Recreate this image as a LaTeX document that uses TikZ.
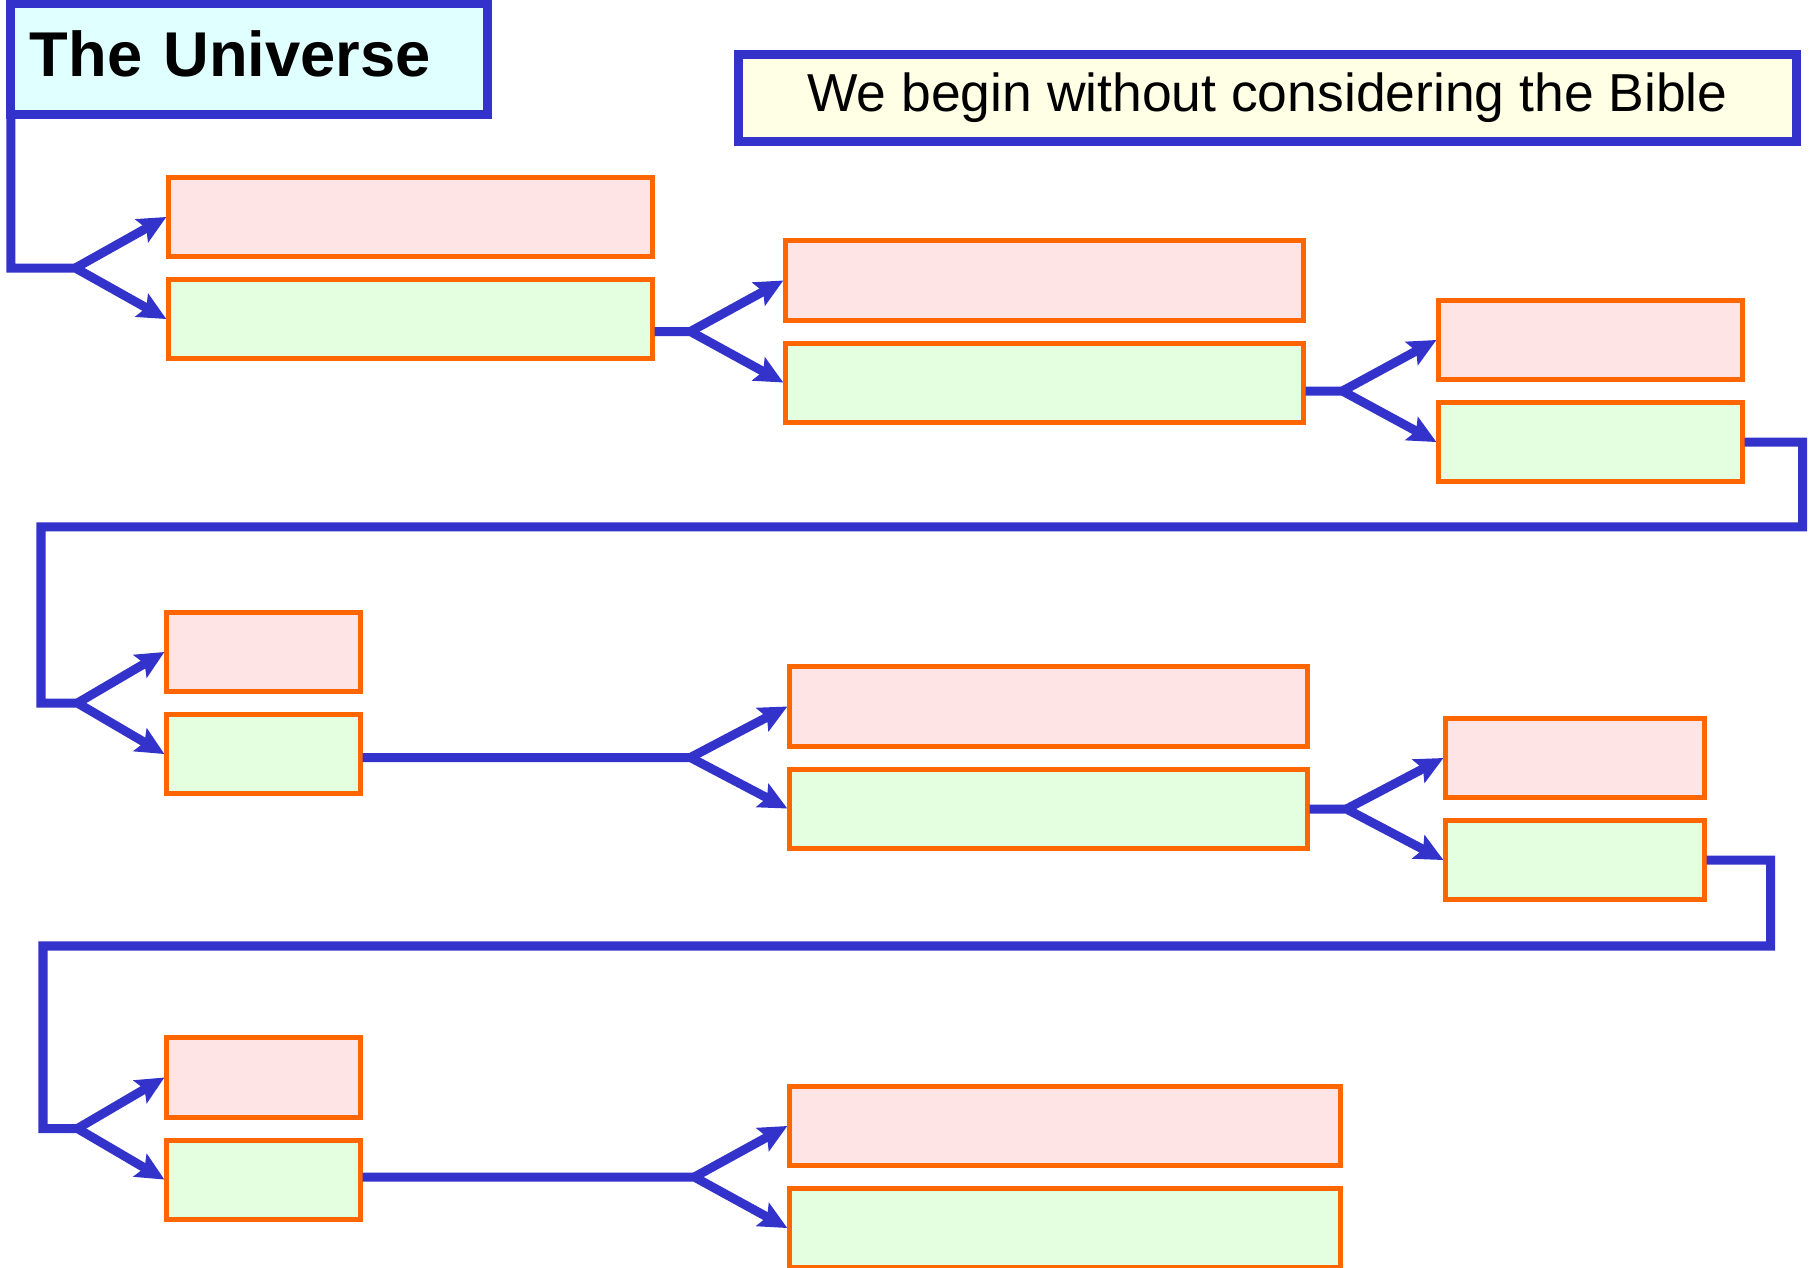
\documentclass[tikz,border=0pt]{standalone}
\usepackage{fontspec}
\setmainfont{Liberation Sans}
\usetikzlibrary{positioning,calc,arrows.meta}

\definecolor{linkblue}{RGB}{51,51,204}
\definecolor{boxorange}{RGB}{255,102,0}
\definecolor{nofill}{RGB}{255,228,230}
\definecolor{yesfill}{RGB}{228,255,224}
\definecolor{titlefill}{RGB}{224,255,255}
\definecolor{notefill}{RGB}{255,255,229}

\begin{document}
\begin{tikzpicture}[x=0.01cm, y=-0.01cm, node distance=0.18cm]
  \tikzstyle{nobox} = [rectangle, draw=boxorange, line width=0.05cm, fill=nofill, inner sep=0pt, minimum height=0.79cm]
  \tikzstyle{yesbox} = [nobox, fill=yesfill]
  \tikzstyle{headbox} = [rectangle, draw=linkblue, line width=0.09cm, outer sep=0pt]
  \tikzstyle{link} = [draw=linkblue, line width=0.09cm]
  \tikzstyle{arr} = [link, -{Stealth[length=0.28cm, width=0.26cm, inset=0.05cm]}]

  \useasboundingbox (0,0) rectangle (1816,1268);

  \node[headbox, fill=titlefill, text width=4.38cm, inner xsep=0.19cm, minimum height=1.10cm,
        text depth=0.1cm, align=left, font=\fontsize{18pt}{22pt}\selectfont\bfseries] (title) at (249,59) {The Universe};
  \node[headbox, fill=notefill, minimum width=10.57cm, minimum height=0.86cm,
        font=\fontsize{15.2pt}{18pt}\selectfont] (note) at (1267.5,98) {We begin without considering the Bible};

  % first row
  \node[nobox, minimum width=4.83cm] (A1) at (410.5,217) {};
  \node[yesbox, minimum width=4.83cm, below=of A1] (A2) {};
  \node[nobox, minimum width=5.17cm] (B1) at (1044.5,280.5) {};
  \node[yesbox, minimum width=5.17cm, below=of B1] (B2) {};
  \node[nobox, minimum width=3.03cm] (C1) at (1590.5,340) {};
  \node[yesbox, minimum width=3.03cm, below=of C1] (C2) {};

  % second row
  \node[nobox, minimum width=1.93cm] (D1) at (263.5,652) {};
  \node[yesbox, minimum width=1.93cm, below=of D1] (D2) {};
  \node[nobox, minimum width=5.17cm] (E1) at (1048.5,706.5) {};
  \node[yesbox, minimum width=5.17cm, below=of E1] (E2) {};
  \node[nobox, minimum width=2.58cm] (F1) at (1575,758) {};
  \node[yesbox, minimum width=2.58cm, below=of F1] (F2) {};

  % third row
  \node[nobox, minimum width=1.93cm] (G1) at (263.5,1077.5) {};
  \node[yesbox, minimum width=1.93cm, below=of G1] (G2) {};
  \node[nobox, minimum width=5.50cm] (H1) at (1065,1126) {};
  \node[yesbox, minimum width=5.50cm, below=of H1] (H2) {};

  \coordinate (fA) at ($(A1.west)!.5!(A2.west) + (-91,0)$);
  \coordinate (fB) at ($(B1.west)!.5!(B2.west) + (-93,0)$);
  \coordinate (fC) at ($(C1.west)!.5!(C2.west) + (-94,0)$);
  \coordinate (fD) at ($(D1.west)!.5!(D2.west) + (-87,0)$);
  \coordinate (fE) at ($(E1.west)!.5!(E2.west) + (-97,0)$);
  \coordinate (fF) at ($(F1.west)!.5!(F2.west) + (-97,0)$);
  \coordinate (fG) at ($(G1.west)!.5!(G2.west) + (-87,0)$);
  \coordinate (fH) at ($(H1.west)!.5!(H2.west) + (-93,0)$);

  \draw[arr] (title.south west) |- (fA) -- (A2.west);
  \draw[arr] (fA) -- (A1.west);
  \draw[arr] (A2.east |- fB) -- (fB) -- (B2.west);
  \draw[arr] (fB) -- (B1.west);
  \draw[arr] (B2.east |- fC) -- (fC) -- (C2.west);
  \draw[arr] (fC) -- (C1.west);

  \draw[arr] (C2.east) -- ++(58,0) |- (41,527) |- (fD) -- (D2.west);
  \draw[arr] (fD) -- (D1.west);
  \draw[arr] (D2.east |- fE) -- (fE) -- (E2.west);
  \draw[arr] (fE) -- (E1.west);
  \draw[arr] (E2.east |- fF) -- (fF) -- (F2.west);
  \draw[arr] (fF) -- (F1.west);

  \draw[arr] (F2.east) -- ++(64,0) |- (43,946) |- (fG) -- (G2.west);
  \draw[arr] (fG) -- (G1.west);
  \draw[arr] (G2.east |- fH) -- (fH) -- (H2.west);
  \draw[arr] (fH) -- (H1.west);

\end{tikzpicture}
\end{document}
